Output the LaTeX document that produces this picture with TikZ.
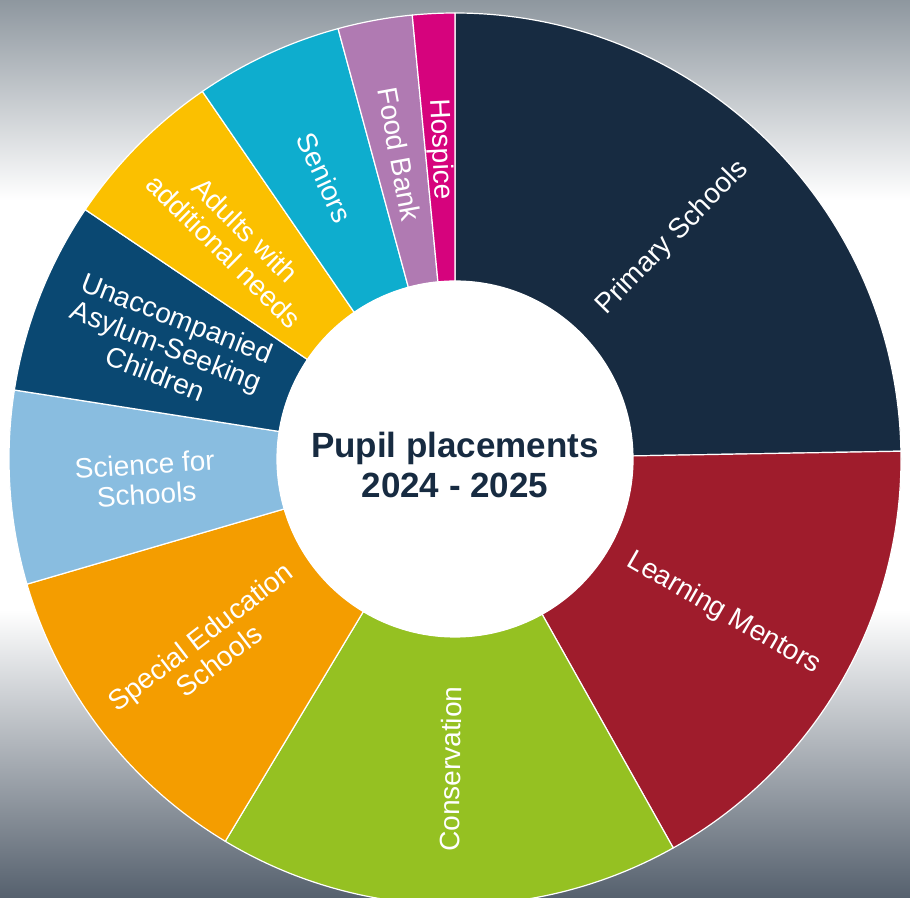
\documentclass[tikz,border=0pt]{standalone}
\usepackage{fontspec}
\setmainfont{Liberation Sans}
\usepackage{tikz}

\definecolor{bgTop}{HTML}{8E979F}
\definecolor{bgBottom}{HTML}{56616E}
\definecolor{cPrimary}{HTML}{172B41}
\definecolor{cLearning}{HTML}{9F1C2C}
\definecolor{cConserv}{HTML}{95C122}
\definecolor{cSpecial}{HTML}{F49D00}
\definecolor{cScience}{HTML}{89BDE0}
\definecolor{cAsylum}{HTML}{0A4872}
\definecolor{cAdults}{HTML}{FBC000}
\definecolor{cSeniors}{HTML}{0EADCE}
\definecolor{cFood}{HTML}{B07AB2}
\definecolor{cHospice}{HTML}{D6037D}

\begin{document}
\begin{tikzpicture}[x=1pt, y=1pt]
    \tikzstyle{slice} = [draw=white, line width=1.2pt, line join=round]
    \tikzstyle{slicelabel} = [text=white, align=center, inner sep=0pt, font=\fontsize{28}{30}\selectfont]
    \def\rin{178}
    \def\rout{446}
    % background
    \fill[white] (-455,-438) rectangle (455,459);
    \shade[top color=bgTop, bottom color=white] (-455,259) rectangle (455,459);
    \shade[top color=white, bottom color=bgBottom] (-455,-438) rectangle (455,-151);
    \useasboundingbox (-455,-438) rectangle (455,459);
    % ring
    \foreach \a/\b/\col/\txt/\nm in {
        90/1/cPrimary/{Primary Schools}/primary,
        1/-60.7/cLearning/{Learning Mentors}/learning,
        -60.7/-121/cConserv/{Conservation}/conserv,
        -121/-163.7/cSpecial/{Special Education\\Schools}/special,
        -163.7/-188.9/cScience/{Science for\\Schools}/science,
        -188.9/-214/cAsylum/{Unaccompanied\\Asylum-Seeking\\Children}/asylum,
        -214/-235.5/cAdults/{Adults with\\additional needs}/adults,
        -235.5/-254.8/cSeniors/{Seniors}/seniors,
        -254.8/-264.5/cFood/{Food Bank}/food,
        -264.5/-270/cHospice/{Hospice}/hospice} {
        \pgfmathsetmacro{\midang}{(\a+\b)/2}
        \pgfmathsetmacro{\labrot}{\midang < -90 ? \midang+180 : \midang}
        \filldraw[slice, fill=\col] (\a:\rin) -- (\a:\rout)
            arc[start angle=\a, end angle=\b, radius=\rout] -- (\b:\rin)
            arc[start angle=\b, end angle=\a, radius=\rin] -- cycle;
        \node[slicelabel, rotate=\labrot] (\nm) at (\midang:310) {\txt};
    }
    % hole and title
    \fill[white] (0,0) circle[radius=\rin];
    \node[align=center, text=cPrimary, font=\bfseries\fontsize{35}{40}\selectfont] (title) at (0,-5.5) {Pupil placements\\2024 - 2025};
\end{tikzpicture}
\end{document}
